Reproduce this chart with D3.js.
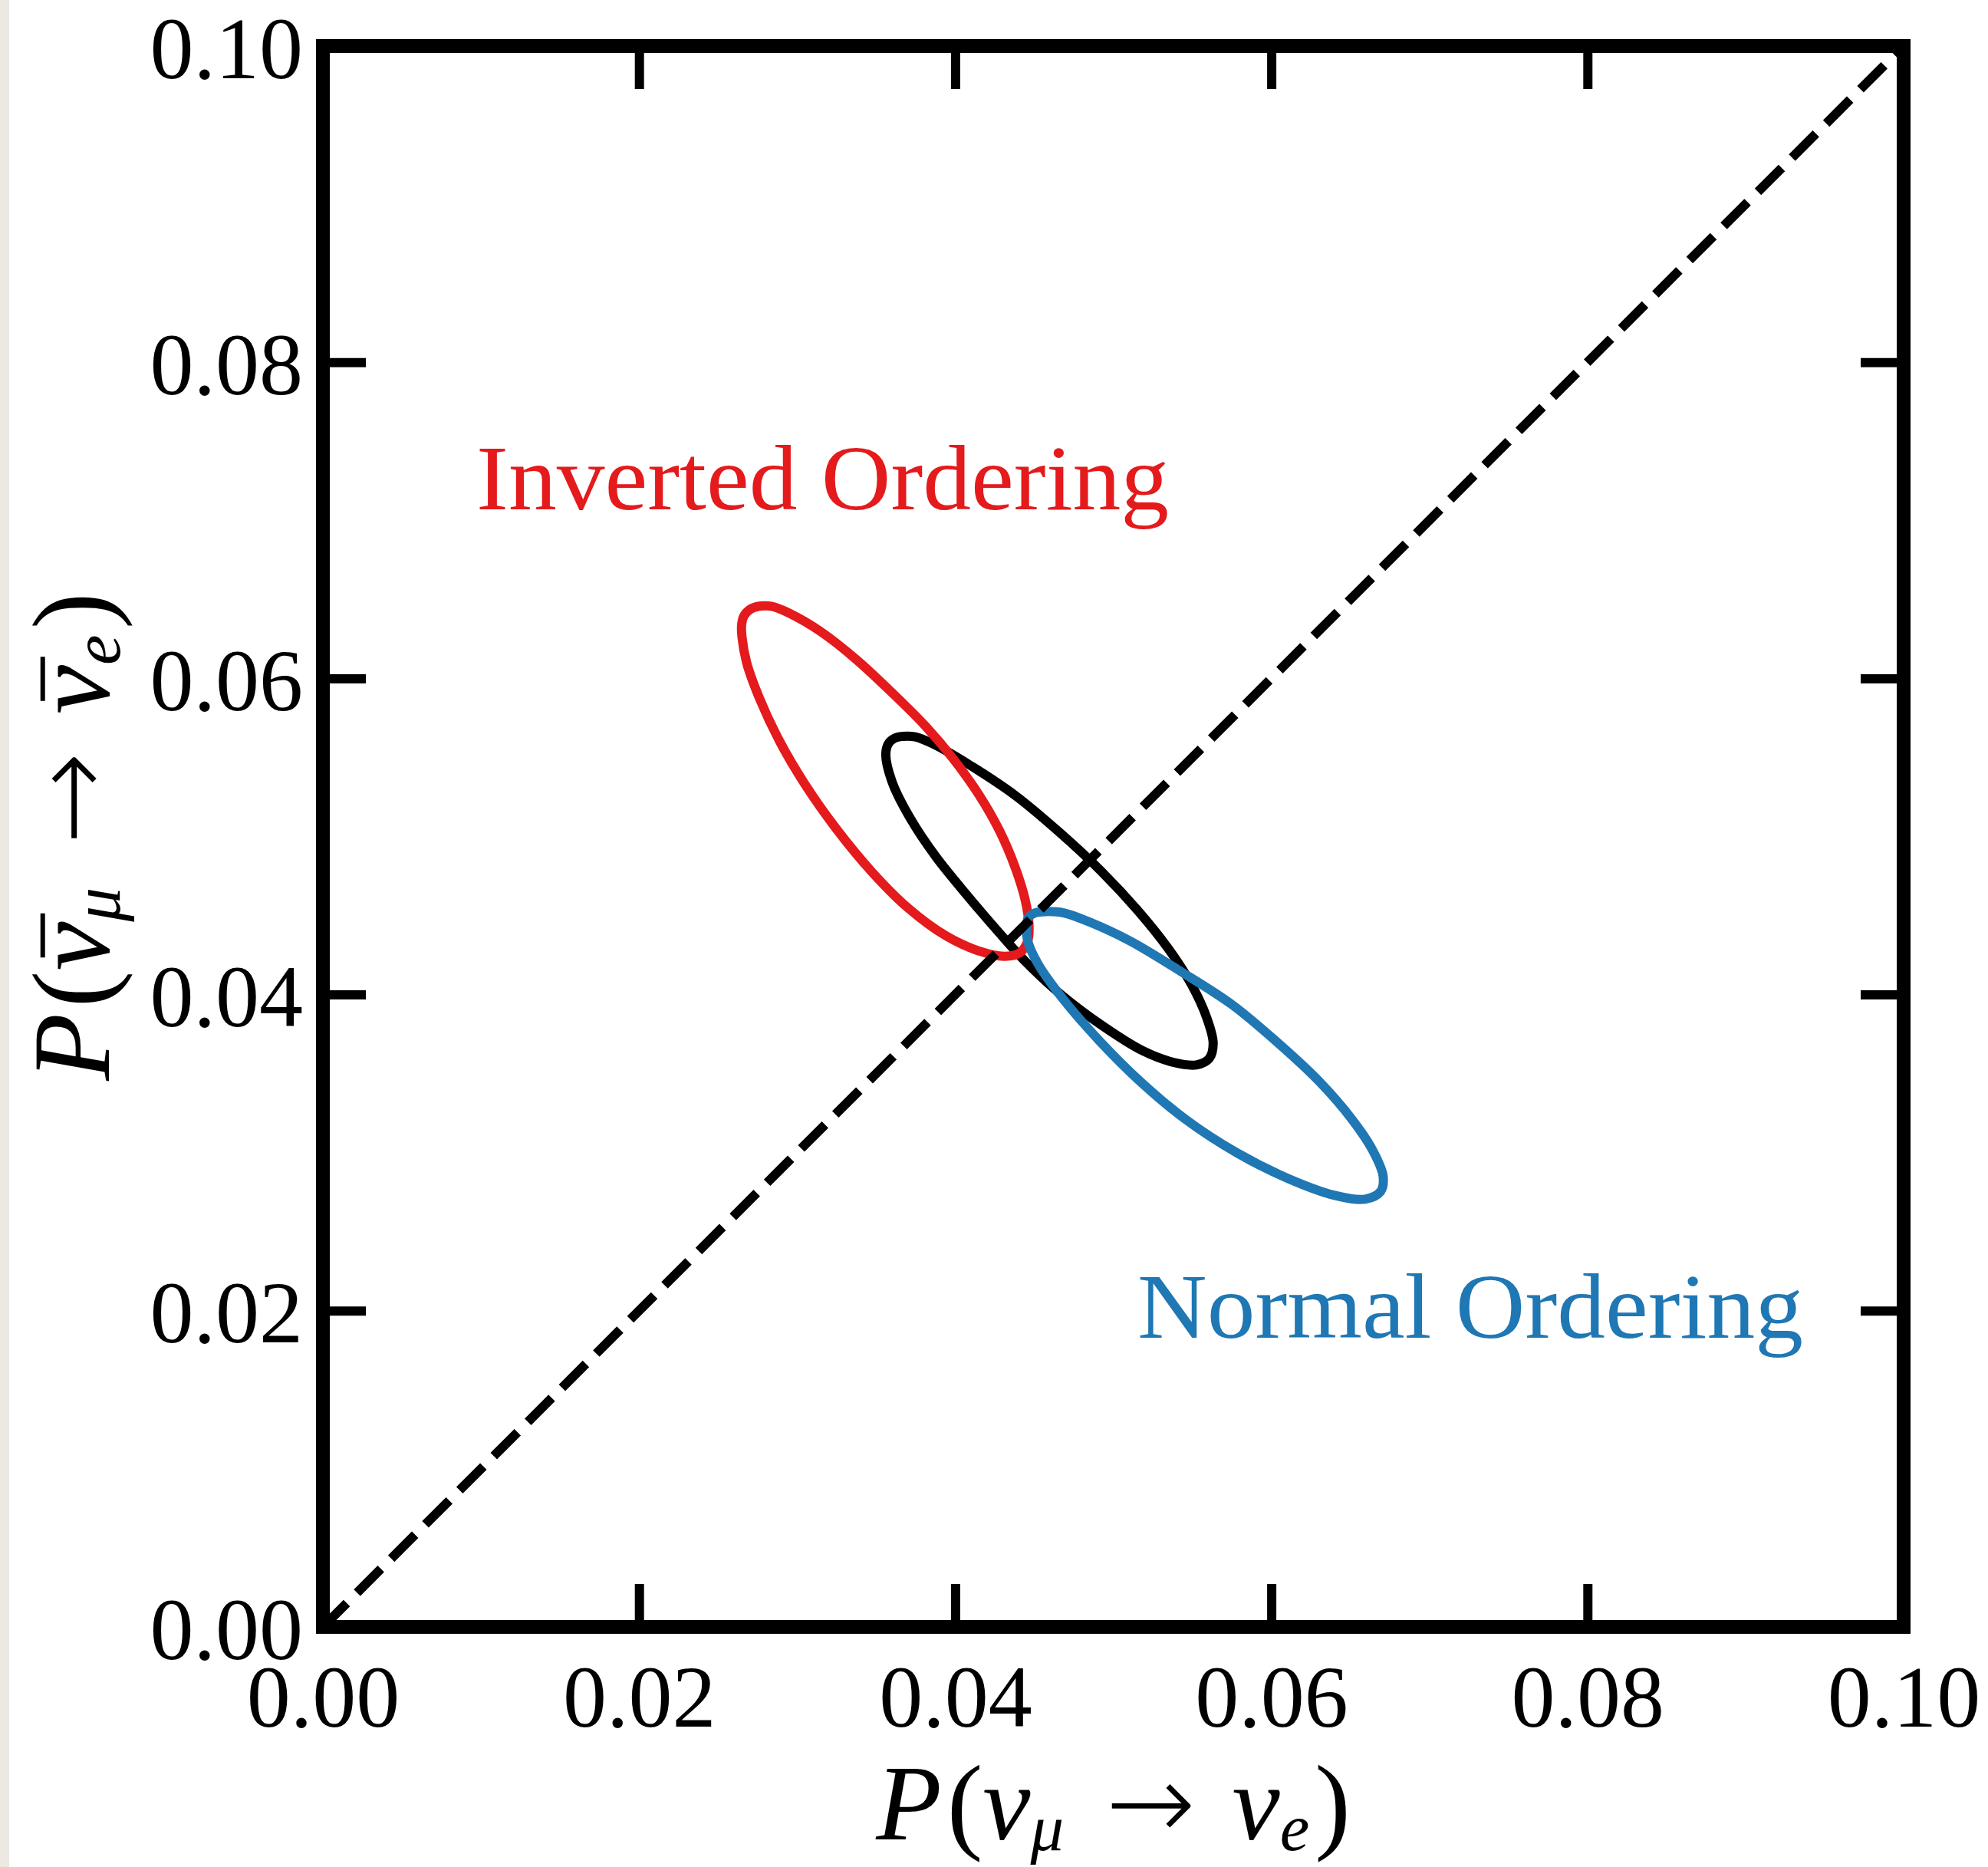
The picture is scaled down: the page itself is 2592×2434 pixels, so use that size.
<!DOCTYPE html>
<html><head><meta charset="utf-8">
<script src="https://cdn.jsdelivr.net/npm/d3@7"></script>
<style>body{margin:0;background:#fff}</style>
</head><body>
<svg id="chart" width="2592" height="2434" xmlns="http://www.w3.org/2000/svg"></svg>
<script>
// ---------- data ----------
const xTickValues = [0, 0.02, 0.04, 0.06, 0.08, 0.10];
const yTickValues = [0, 0.02, 0.04, 0.06, 0.08, 0.10];
const tickLabels = ["0.00", "0.02", "0.04", "0.06", "0.08", "0.10"];

// Inverted ordering contour: P(nu_mu->nu_e), P(nubar_mu->nubar_e)
const invertedNu = [0.02842,0.02761,0.02703,0.02664,0.02649,0.02651,0.02680,0.02761,0.02890,0.03052,0.03246,0.03473,0.03699,0.03941,0.04152,0.04313,0.04411,0.04459,0.04467,0.04443,0.04378,0.04281,0.04152,0.03990,0.03812,0.03602,0.03376,0.03149,0.02955];
const invertedNuBar = [0.06455,0.06457,0.06437,0.06396,0.06338,0.06265,0.06102,0.05876,0.05601,0.05326,0.05051,0.04776,0.04550,0.04372,0.04275,0.04242,0.04266,0.04339,0.04436,0.04598,0.04808,0.05035,0.05261,0.05488,0.05698,0.05908,0.06118,0.06296,0.06410];

// Central (black) contour
const centralNu = [0.03747,0.03667,0.03614,0.03578,0.03561,0.03602,0.03715,0.03877,0.04087,0.04281,0.04443,0.04669,0.04928,0.05187,0.05381,0.05526,0.05607,0.05632,0.05591,0.05494,0.05348,0.05154,0.04928,0.04669,0.04378,0.04087,0.03861];
const centralNuBar = [0.05630,0.05633,0.05620,0.05588,0.05520,0.05342,0.05116,0.04873,0.04614,0.04388,0.04210,0.04000,0.03805,0.03644,0.03571,0.03555,0.03595,0.03692,0.03854,0.04065,0.04291,0.04533,0.04776,0.05018,0.05261,0.05455,0.05585];

// Normal ordering contour
const normalNu = [0.04686,0.04572,0.04510,0.04465,0.04451,0.04459,0.04524,0.04686,0.04912,0.05171,0.05462,0.05785,0.06109,0.06400,0.06594,0.06691,0.06707,0.06642,0.06513,0.06303,0.06044,0.05753,0.05429,0.05106,0.04847];
const normalNuBar = [0.04517,0.04525,0.04518,0.04490,0.04436,0.04339,0.04194,0.03967,0.03708,0.03450,0.03207,0.02997,0.02835,0.02730,0.02706,0.02754,0.02852,0.03013,0.03207,0.03450,0.03692,0.03935,0.04145,0.04339,0.04460];

const diagonalX = [0, 0.1];
const diagonalY = [0, 0.1];

const annotations = [
  {text: "Inverted Ordering", x: 0.00971, y: 0.07069, color: "#e41a1c", width: 903},
  {text: "Normal Ordering",   x: 0.05153, y: 0.01829, color: "#1f77b4", width: 868}
];

// ---------- layout ----------
const W = 2592, H = 2434;
const L = 421, R = 2482, T = 60, B = 2121;
const FONT = "'Liberation Serif', 'DejaVu Serif', serif";

const svg = d3.select("#chart");
svg.append("rect").attr("width", W).attr("height", H).attr("fill", "#fff");
svg.append("rect").attr("x", 0).attr("y", 0).attr("width", 12).attr("height", H).attr("fill", "#ece8e2");

const x = d3.scaleLinear().domain([0, 0.1]).range([L, R]);
const y = d3.scaleLinear().domain([0, 0.1]).range([B, T]);

const line = d3.line().x(d => x(d[0])).y(d => y(d[1])).curve(d3.curveCatmullRomClosed.alpha(0.5));
const zip = (a, b) => a.map((v, i) => [v, b[i]]);

// black central contour first (under)
svg.append("path").attr("d", line(zip(centralNu, centralNuBar)))
  .attr("fill", "none").attr("stroke", "#000").attr("stroke-width", 12).attr("stroke-linejoin", "round");
svg.append("path").attr("d", line(zip(invertedNu, invertedNuBar)))
  .attr("fill", "none").attr("stroke", "#e41a1c").attr("stroke-width", 12).attr("stroke-linejoin", "round");
svg.append("path").attr("d", line(zip(normalNu, normalNuBar)))
  .attr("fill", "none").attr("stroke", "#1f77b4").attr("stroke-width", 12).attr("stroke-linejoin", "round");

// dashed diagonal
svg.append("path")
  .attr("d", d3.line().x(d => x(d[0])).y(d => y(d[1]))(zip(diagonalX, diagonalY)))
  .attr("fill", "none").attr("stroke", "#000").attr("stroke-width", 12)
  .attr("stroke-dasharray", "44,19");

// annotations
annotations.forEach(a => {
  svg.append("text").attr("x", x(a.x)).attr("y", y(a.y))
    .attr("font-family", FONT).attr("font-size", 120).attr("fill", a.color)
    .attr("textLength", a.width).attr("lengthAdjust", "spacingAndGlyphs")
    .text(a.text);
});

// axes (ticks inward)
const TICK = 56;
function styleAxis(g) {
  g.select(".domain").remove();
  g.selectAll(".tick line").attr("stroke", "#000").attr("stroke-width", 12);
  g.selectAll(".tick text").attr("font-family", FONT).attr("font-size", 114).attr("fill", "#000");
}
svg.append("g").attr("transform", `translate(0,${B})`)
  .call(d3.axisBottom(x).tickValues(xTickValues).tickSize(-TICK).tickPadding(49)
    .tickFormat((d, i) => tickLabels[i]))
  .call(styleAxis)
  .call(g => g.selectAll(".tick text").attr("dy", "0.71em"));
svg.append("g").attr("transform", `translate(0,${T})`)
  .call(d3.axisTop(x).tickValues(xTickValues).tickSize(-TICK).tickFormat(""))
  .call(styleAxis);
svg.append("g").attr("transform", `translate(${L},0)`)
  .call(d3.axisLeft(y).tickValues(yTickValues).tickSize(-TICK).tickPadding(26)
    .tickFormat((d, i) => tickLabels[i]))
  .call(styleAxis)
  .call(g => g.selectAll(".tick text").attr("dy", "0.36em"));
svg.append("g").attr("transform", `translate(${R},0)`)
  .call(d3.axisRight(y).tickValues(yTickValues).tickSize(-TICK).tickFormat(""))
  .call(styleAxis);

// frame
svg.append("rect").attr("x", L).attr("y", T).attr("width", R - L).attr("height", B - T)
  .attr("fill", "none").attr("stroke", "#000").attr("stroke-width", 18);

// ---------- math axis labels ----------
function drawMath(parent, parts, fs) {
  const g = parent.append("g").attr("font-family", FONT).attr("fill", "#000");
  let cx = 0;
  parts.forEach(p => {
    if (p.rel) cx += fs * 0.34;
    const size = p.sub ? fs * 0.62 : fs;
    const t = g.append("text").attr("x", cx).attr("y", p.sub ? fs * 0.1 : 0)
      .attr("font-size", size).attr("font-style", p.it ? "italic" : "normal").text(p.t);
    if (p.rel) t.attr("font-family", "'DejaVu Sans', sans-serif").attr("font-weight", 200);
    const w = t.node().getComputedTextLength();
    if (p.bar) {
      g.append("rect").attr("x", cx + size * 0.12).attr("y", -fs * 0.62)
        .attr("width", w * 0.9).attr("height", 6).attr("fill", "#000");
    }
    cx += w;
    if (p.rel) cx += fs * 0.34;
    if (p.sub) cx += fs * 0.05;
    if (p.kern) cx += fs * p.kern;
  });
  return {g, width: cx};
}
const xLabelParts = [
  {t: "P", it: 1, kern: 0.05}, {t: "("}, {t: "ν", it: 1}, {t: "μ", it: 1, sub: 1},
  {t: "→", rel: 1}, {t: "ν", it: 1}, {t: "e", it: 1, sub: 1}, {t: ")"}
];
const yLabelParts = [
  {t: "P", it: 1, kern: 0.05}, {t: "("}, {t: "ν", it: 1, bar: 1}, {t: "μ", it: 1, sub: 1},
  {t: "→", rel: 1}, {t: "ν", it: 1, bar: 1}, {t: "e", it: 1, sub: 1}, {t: ")"}
];
const xl = drawMath(svg, xLabelParts, 140);
xl.g.attr("transform", `translate(${(L + R) / 2 - xl.width / 2},2398)`);
const yl = drawMath(svg, yLabelParts, 144);
yl.g.attr("transform", `translate(142,${(T + B) / 2}) rotate(-90) translate(${-yl.width / 2},0)`);
</script>
</body></html>
